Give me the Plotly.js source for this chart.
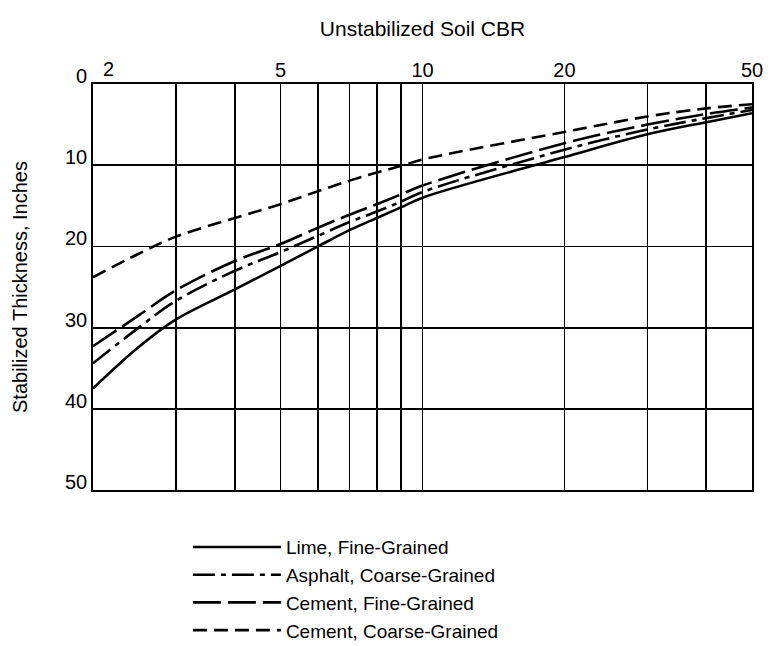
<!DOCTYPE html>
<html>
<head>
<meta charset="utf-8">
<script src="https://cdn.plot.ly/plotly-3.0.1.min.js"></script>
<style>html,body{margin:0;padding:0;background:#fff;}#chart{width:771px;height:646px;}</style>
</head>
<body>
<div id="chart"></div>
<script>
// Unstabilized soil CBR (x) and stabilized thickness in inches (y)
const cbr = [2, 2.5, 3, 4, 5, 6, 7, 8, 9, 10, 20, 30, 40, 50];
const limeFine      = [37.5, 32.4, 29.0, 25.3, 22.4, 20.0, 18.0, 16.5, 15.2, 14.0, 9.0, 6.2, 4.7, 3.6];
const asphaltCoarse = [34.4, 30.0, 26.7, 23.0, 20.7, 18.7, 17.0, 15.7, 14.5, 13.3, 8.1, 5.6, 4.2, 3.2];
const cementFine    = [32.3, 28.5, 25.4, 21.8, 19.7, 17.7, 16.1, 14.8, 13.6, 12.5, 7.3, 5.0, 3.7, 2.9];
const cementCoarse  = [23.8, 20.9, 18.8, 16.5, 14.8, 13.2, 11.9, 10.9, 10.1, 9.3, 5.9, 4.0, 3.0, 2.5];

const seriesNames = ["Lime, Fine-Grained", "Asphalt, Coarse-Grained", "Cement, Fine-Grained", "Cement, Coarse-Grained"];

const xGridVals = [2, 3, 4, 5, 6, 7, 8, 9, 10, 20, 30, 40, 50];
const xGridText = ["", "", "", "5", "", "", "", "", "10", "20", "", "", "50"];
const firstXLabel = "2";
const yTickVals = [0, 10, 20, 30, 40, 50];

const FONT = "Liberation Sans, Arial, Helvetica, sans-serif";
const dashes = ["solid", "22px,6px,5px,6px", "28px,7px", "14px,7px"];
const ys = [limeFine, asphaltCoarse, cementFine, cementCoarse];

const traces = ys.map((y, i) => ({
  x: cbr, y: y, type: "scatter", mode: "lines",
  name: seriesNames[i], legendgroup: "g" + i,
  line: {color: "#000", width: 2.6, dash: dashes[i], shape: "spline", smoothing: 1.0}
}));

const layout = {
  width: 771, height: 646,
  margin: {l: 93, r: 19, t: 84, b: 156, pad: 0, autoexpand: false},
  paper_bgcolor: "#fff", plot_bgcolor: "#fff",
  font: {family: FONT, color: "#000", size: 20},
  showlegend: true,
  legend: {
    x: 0.144, y: -0.094, xanchor: "left", yanchor: "top",
    font: {family: FONT, size: 19, color: "#000"},
    tracegroupgap: 0, itemwidth: 88, bgcolor: "rgba(0,0,0,0)"
  },
  annotations: [{
    text: firstXLabel, xref: "x", yref: "paper",
    x: Math.log10(xGridVals[0]), y: 1, xanchor: "center", yanchor: "bottom",
    xshift: 15, yshift: 2, showarrow: false, font: {size: 20}
  }],
  xaxis: {
    type: "log", side: "top",
    range: [Math.log10(2), Math.log10(50)],
    tickmode: "array", tickvals: xGridVals, ticktext: xGridText,
    ticks: "", showgrid: true, gridcolor: "#000", gridwidth: 1.8,
    showline: true, linecolor: "#000", linewidth: 1.8, mirror: true,
    zeroline: false, tickfont: {size: 20}, ticklabelstandoff: -3,
    title: {text: "Unstabilized Soil CBR", font: {size: 21}, standoff: 17},
    automargin: false
  },
  yaxis: {
    range: [50, 0],
    tickmode: "array", tickvals: yTickVals,
    ticks: "", showgrid: true, gridcolor: "#000", gridwidth: 1.8,
    showline: true, linecolor: "#000", linewidth: 1.8, mirror: true,
    zeroline: false, tickfont: {size: 20}, ticklabelshift: 8, ticklabelstandoff: 0,
    title: {text: "Stabilized Thickness, Inches", font: {size: 20}, standoff: 32},
    automargin: false
  }
};

Plotly.newPlot("chart", traces, layout, {displayModeBar: false, staticPlot: true});
</script>
</body>
</html>
